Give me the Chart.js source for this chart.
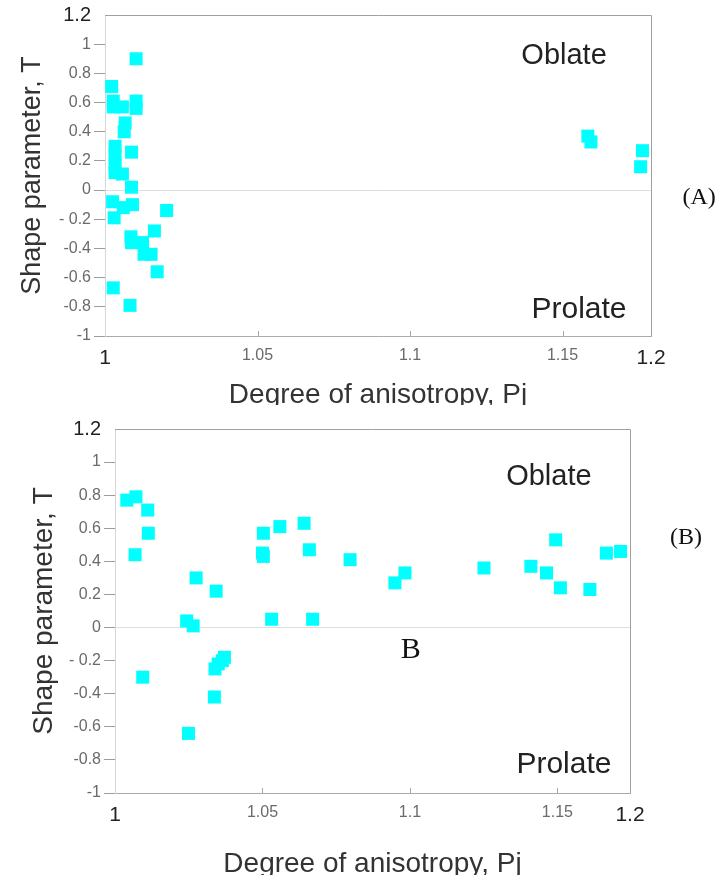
<!DOCTYPE html>
<html>
<head>
<meta charset="utf-8">
<script src="https://cdn.jsdelivr.net/npm/chart.js@4/dist/chart.umd.min.js"></script>
<style>
  html, body { margin: 0; padding: 0; background: #fff; width: 720px; height: 875px; overflow: hidden; }
  canvas { display: block; position: absolute; left: 0; }
  #chartA { top: 0; }
  #chartB { top: 405px; background: #fff; }
</style>
</head>
<body>
<canvas id="chartA" width="720" height="420"></canvas>
<canvas id="chartB" width="720" height="490"></canvas>
<script>
// Panel (A): degree of anisotropy Pj and shape parameter T
const pjA = [1.0102, 1.0022, 1.0027, 1.0027, 1.0057, 1.0102, 1.0102, 1.0066, 1.0063, 1.0033,
             1.0087, 1.0033, 1.0033, 1.0033, 1.0057, 1.0087, 1.0025, 1.0060, 1.0090, 1.0030,
             1.0202, 1.0162, 1.0085, 1.0087, 1.0123, 1.0128, 1.0151, 1.0171, 1.0027, 1.0082,
             1.1583, 1.1593, 1.1762, 1.1756];
const tA  = [0.90, 0.71, 0.61, 0.57, 0.57, 0.61, 0.56, 0.46, 0.40, 0.30,
             0.26, 0.24, 0.17, 0.12, 0.11, 0.02, -0.08, -0.12, -0.10, -0.19,
             -0.14, -0.28, -0.32, -0.36, -0.36, -0.44, -0.44, -0.56, -0.67, -0.79,
             0.37, 0.33, 0.27, 0.16];

// Panel (B)
const pjB = [1.0040, 1.0071, 1.0111, 1.0113, 1.0068, 1.0094, 1.0275, 1.0243, 1.0265, 1.0343,
             1.0249, 1.0337, 1.0339, 1.0350, 1.0364, 1.0371, 1.0503, 1.0500, 1.0503, 1.0531,
             1.0559, 1.0641, 1.0659, 1.0670, 1.0797, 1.0949, 1.0983, 1.1251, 1.1410, 1.1463,
             1.1494, 1.1510, 1.1610, 1.1666, 1.1714];
const tB  = [0.77, 0.79, 0.71, 0.57, 0.44, -0.30, 0.30, 0.04, 0.01, 0.22,
             -0.64, -0.42, -0.25, -0.22, -0.20, -0.18, 0.57, 0.45, 0.43, 0.05,
             0.61, 0.63, 0.47, 0.05, 0.41, 0.27, 0.33, 0.36, 0.37, 0.33,
             0.53, 0.24, 0.23, 0.45, 0.46];

// Axis ticks
const yTickValues = [-1, -0.8, -0.6, -0.4, -0.2, 0, 0.2, 0.4, 0.6, 0.8, 1, 1.2];
const yTickLabels = ['-1', '-0.8', '-0.6', '-0.4', '- 0.2', '0', '0.2', '0.4', '0.6', '0.8', '1', '1.2'];
const xTickLabels = ['1', '1.05', '1.1', '1.15', '1.2'];
const xMaxA = 1.179;
const xMaxB = 1.1746;
const xTickValuesA = [1, 1.05, 1.1, 1.15, xMaxA];
const xTickValuesB = [1, 1.05, 1.1, 1.15, xMaxB];

const SANS = "'Liberation Sans', Arial, sans-serif";
const SERIF = "'Liberation Serif', 'Times New Roman', serif";

const tickVal = c => (c && c.tick) ? c.tick.value : NaN;

// Frame on the top/right edges, short inward ticks on the x axis, and region labels
const framePlugin = {
  id: 'frame',
  afterDraw(chart, args, opts) {
    const { ctx, chartArea: a, scales: { x, y } } = chart;
    ctx.save();
    ctx.lineWidth = 1;
    ctx.strokeStyle = '#a0a0a0';
    ctx.beginPath();
    ctx.moveTo(a.left, Math.round(a.top) + 0.5);
    ctx.lineTo(Math.round(a.right) + 0.5, Math.round(a.top) + 0.5);
    ctx.lineTo(Math.round(a.right) + 0.5, a.bottom);
    ctx.stroke();
    ctx.strokeStyle = '#a8a8a8';
    opts.innerTicks.forEach(v => {
      const px = Math.round(x.getPixelForValue(v)) + 0.5;
      ctx.beginPath();
      ctx.moveTo(px, a.bottom);
      ctx.lineTo(px, a.bottom - 5);
      ctx.stroke();
    });
    ctx.textAlign = 'center';
    ctx.textBaseline = 'middle';
    opts.notes.forEach(n => {
      ctx.font = n.font;
      ctx.fillStyle = n.color || '#222';
      ctx.fillText(n.text, x.getPixelForValue(n.x), y.getPixelForValue(n.y));
    });
    ctx.restore();
  }
};

function makeChart(id, xs, ys, g) {
  const big = v => v === 1 || v === g.xMax;
  return new Chart(document.getElementById(id), {
    type: 'scatter',
    data: {
      datasets: [{
        data: xs.map((v, i) => ({ x: v, y: ys[i] })),
        pointStyle: 'rect',
        pointRadius: 9.2,
        pointHoverRadius: 9.2,
        backgroundColor: '#00FFFF',
        borderWidth: 0
      }]
    },
    options: {
      responsive: false,
      animation: false,
      events: [],
      layout: { padding: { left: 0, top: g.top, right: g.right, bottom: 0 } },
      plugins: {
        legend: { display: false },
        tooltip: { enabled: false },
        frame: { innerTicks: [1.05, 1.1, 1.15], notes: g.notes }
      },
      scales: {
        x: {
          type: 'linear',
          min: 1,
          max: g.xMax,
          afterFit: s => { s.height = g.xHeight; },
          afterBuildTicks: s => { s.ticks = g.xTicks.map(v => ({ value: v })); },
          ticks: {
            autoSkip: false,
            maxRotation: 0,
            padding: 10,
            callback: (v, i) => xTickLabels[i],
            font: c => big(tickVal(c)) ? { family: SANS, size: 21 } : { family: SANS, size: 16 },
            color: c => big(tickVal(c)) ? '#222' : '#6a6a6a'
          },
          grid: { drawOnChartArea: false, drawTicks: false },
          border: { color: '#ababab' },
          title: {
            display: true,
            text: 'Degree of anisotropy, Pj',
            font: { family: SANS, size: 28 },
            color: '#333',
            padding: { top: 0, bottom: g.xTitlePad }
          }
        },
        y: {
          min: -1,
          max: 1.2,
          afterFit: s => { s.width = g.yWidth; },
          afterBuildTicks: s => { s.ticks = yTickValues.map(v => ({ value: v })); },
          ticks: {
            padding: 3,
            callback: (v, i) => yTickLabels[i],
            font: c => tickVal(c) === 1.2 ? { family: SANS, size: 20 } : { family: SANS, size: 16 },
            color: c => tickVal(c) === 1.2 ? '#222' : '#6a6a6a'
          },
          grid: {
            drawTicks: true,
            tickLength: 11,
            color: c => tickVal(c) === 0 ? '#dedede' : 'rgba(0,0,0,0)',
            tickColor: c => tickVal(c) === 1.2 ? 'rgba(0,0,0,0)' : '#9c9c9c'
          },
          border: { color: '#d6d6d6' },
          title: {
            display: true,
            text: 'Shape parameter, T',
            font: { family: SANS, size: g.yTitleSize },
            color: '#333',
            padding: { top: g.yTitlePad, bottom: 0 }
          }
        }
      }
    },
    plugins: [framePlugin]
  });
}

makeChart('chartA', pjA, tA, {
  top: 13, right: 69, yWidth: 105, xHeight: 84, xMax: xMaxA, xTicks: xTickValuesA,
  xTitlePad: 8, yTitleSize: 27, yTitlePad: 16,
  notes: [
    { text: 'Oblate', x: 1.1505, y: 0.918, font: `29px ${SANS}` },
    { text: 'Prolate', x: 1.1554, y: -0.823, font: `30px ${SANS}` },
    { text: '(A)', x: 1.1948, y: -0.05, font: `24px ${SERIF}`, color: '#111' }
  ]
});

makeChart('chartB', pjB, tB, {
  top: 24, right: 90, yWidth: 115, xHeight: 102, xMax: xMaxB, xTicks: xTickValuesB,
  xTitlePad: 14, yTitleSize: 28, yTitlePad: 27,
  notes: [
    { text: 'Oblate', x: 1.1471, y: 0.910, font: `29px ${SANS}` },
    { text: 'Prolate', x: 1.1522, y: -0.831, font: `30px ${SANS}` },
    { text: 'B', x: 1.1003, y: -0.136, font: `30px ${SERIF}`, color: '#111' },
    { text: '(B)', x: 1.1936, y: 0.541, font: `24px ${SERIF}`, color: '#111' }
  ]
});
</script>
</body>
</html>
